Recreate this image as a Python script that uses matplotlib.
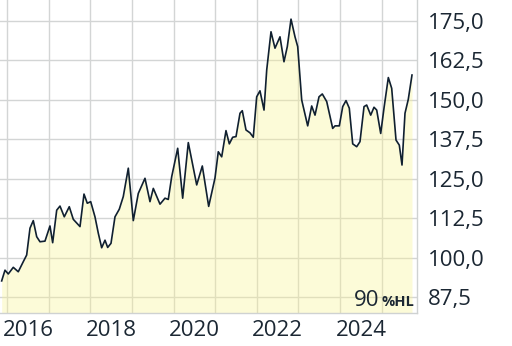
import matplotlib.pyplot as plt
from matplotlib.ticker import FixedLocator, FuncFormatter

# decimal year and price
dates = [
    2015.865, 2015.945, 2016.024, 2016.144, 2016.264, 2016.385, 2016.466, 2016.546,
    2016.625, 2016.707, 2016.786, 2016.906, 2017.026, 2017.091, 2017.188, 2017.267,
    2017.370, 2017.490, 2017.587, 2017.748, 2017.844, 2017.923, 2018.005, 2018.108,
    2018.188, 2018.269, 2018.349, 2018.413, 2018.493, 2018.589, 2018.692, 2018.788,
    2018.909, 2019.029, 2019.149, 2019.310, 2019.430, 2019.510, 2019.671, 2019.791,
    2019.870, 2019.952, 2020.096, 2020.216, 2020.351, 2020.553, 2020.688, 2020.841,
    2020.993, 2021.072, 2021.154, 2021.257, 2021.337, 2021.418, 2021.498, 2021.594,
    2021.649, 2021.738, 2021.834, 2021.913, 2021.995, 2022.074, 2022.171, 2022.236,
    2022.339, 2022.435, 2022.555, 2022.651, 2022.731, 2022.820, 2022.916, 2022.981,
    2023.077, 2023.221, 2023.317, 2023.397, 2023.493, 2023.572, 2023.678, 2023.822,
    2023.878, 2023.981, 2024.063, 2024.142, 2024.221, 2024.303, 2024.399, 2024.478,
    2024.575, 2024.639, 2024.736, 2024.815, 2024.880, 2024.976, 2025.055, 2025.159,
    2025.240, 2025.344, 2025.423, 2025.488, 2025.560, 2025.639, 2025.728,
]
prices = [
    92.6, 96.0, 94.8, 96.9, 95.5, 98.7, 100.8, 109.3,
    111.7, 106.6, 105.0, 105.2, 110.0, 104.7, 115.0, 116.3,
    112.9, 116.1, 112.1, 109.8, 120.1, 117.2, 117.7, 112.9,
    107.7, 103.1, 105.5, 103.2, 104.5, 112.9, 115.3, 119.3,
    128.3, 111.7, 120.3, 125.1, 117.7, 121.9, 116.9, 118.8,
    118.4, 125.6, 134.6, 118.8, 136.4, 123.0, 129.0, 116.2,
    125.2, 133.5, 131.9, 140.2, 136.0, 138.1, 138.3, 145.7,
    146.5, 140.4, 139.5, 138.1, 150.9, 152.8, 146.7, 159.4,
    171.5, 166.3, 169.9, 162.0, 166.8, 175.5, 169.9, 166.8,
    149.9, 141.7, 148.0, 145.1, 150.9, 151.8, 149.4, 140.9,
    141.7, 141.7, 147.8, 149.7, 147.3, 136.0, 135.1, 136.7,
    147.8, 148.3, 145.1, 147.6, 146.7, 139.3, 147.3, 157.0,
    153.6, 137.2, 135.6, 129.3, 145.7, 150.1, 157.8,
]
y_ticks = [87.5, 100.0, 112.5, 125.0, 137.5, 150.0, 162.5, 175.0]
year_labels = [2016, 2018, 2020, 2022, 2024]
year_lines = list(range(2016, 2026))

text_col = '#1b2733'
grid_col = '#d3d5d5'

plt.rcParams['font.family'] = ['Open Sans', 'DejaVu Sans']

fig = plt.figure(figsize=(5.12, 3.46), dpi=100)
ax = fig.add_axes([0.0, 0.0962, 0.8145, 0.9038])

ax.set_xlim(2015.825, 2025.849)
ax.set_ylim(82.53, 181.56)

# grid: years vertical, price levels horizontal
ax.xaxis.set_minor_locator(FixedLocator(year_lines))
ax.xaxis.set_major_locator(FixedLocator([y + 0.5 for y in year_labels]))
ax.xaxis.set_major_formatter(FuncFormatter(lambda v, p: str(int(v))))
ax.yaxis.set_major_locator(FixedLocator(y_ticks))
ax.yaxis.set_major_formatter(FuncFormatter(lambda v, p: f'{v:.1f}'.replace('.', ',')))
ax.grid(True, which='minor', axis='x', color=grid_col, linewidth=1.0, zorder=0)
ax.grid(True, which='major', axis='y', color=grid_col, linewidth=1.0, zorder=0)
ax.set_axisbelow(True)

ax.fill_between(dates, prices, 82.53, color=(249/255, 244/255, 144/255),
                alpha=0.35, linewidth=0, zorder=1)
ax.plot(dates, prices, color='#102030', linewidth=1.2, zorder=2)

ax.yaxis.tick_right()
ax.tick_params(axis='both', which='both', length=0, labelsize=16, labelcolor=text_col)
ax.tick_params(axis='y', pad=7.5)
ax.tick_params(axis='x', pad=5)

for side in ['top', 'left']:
    ax.spines[side].set_visible(False)
for side in ['right', 'bottom']:
    ax.spines[side].set_color('#cfd2d2')
    ax.spines[side].set_linewidth(1.0)

ax.text(0.909, 0.02, '90', transform=ax.transAxes, ha='right', va='baseline',
        fontsize=16, color=text_col)
ax.text(0.914, 0.02, '%HL', transform=ax.transAxes, ha='left', va='baseline',
        fontsize=10.5, fontweight='bold', color=text_col)

fig.savefig('out.png', dpi=100)
